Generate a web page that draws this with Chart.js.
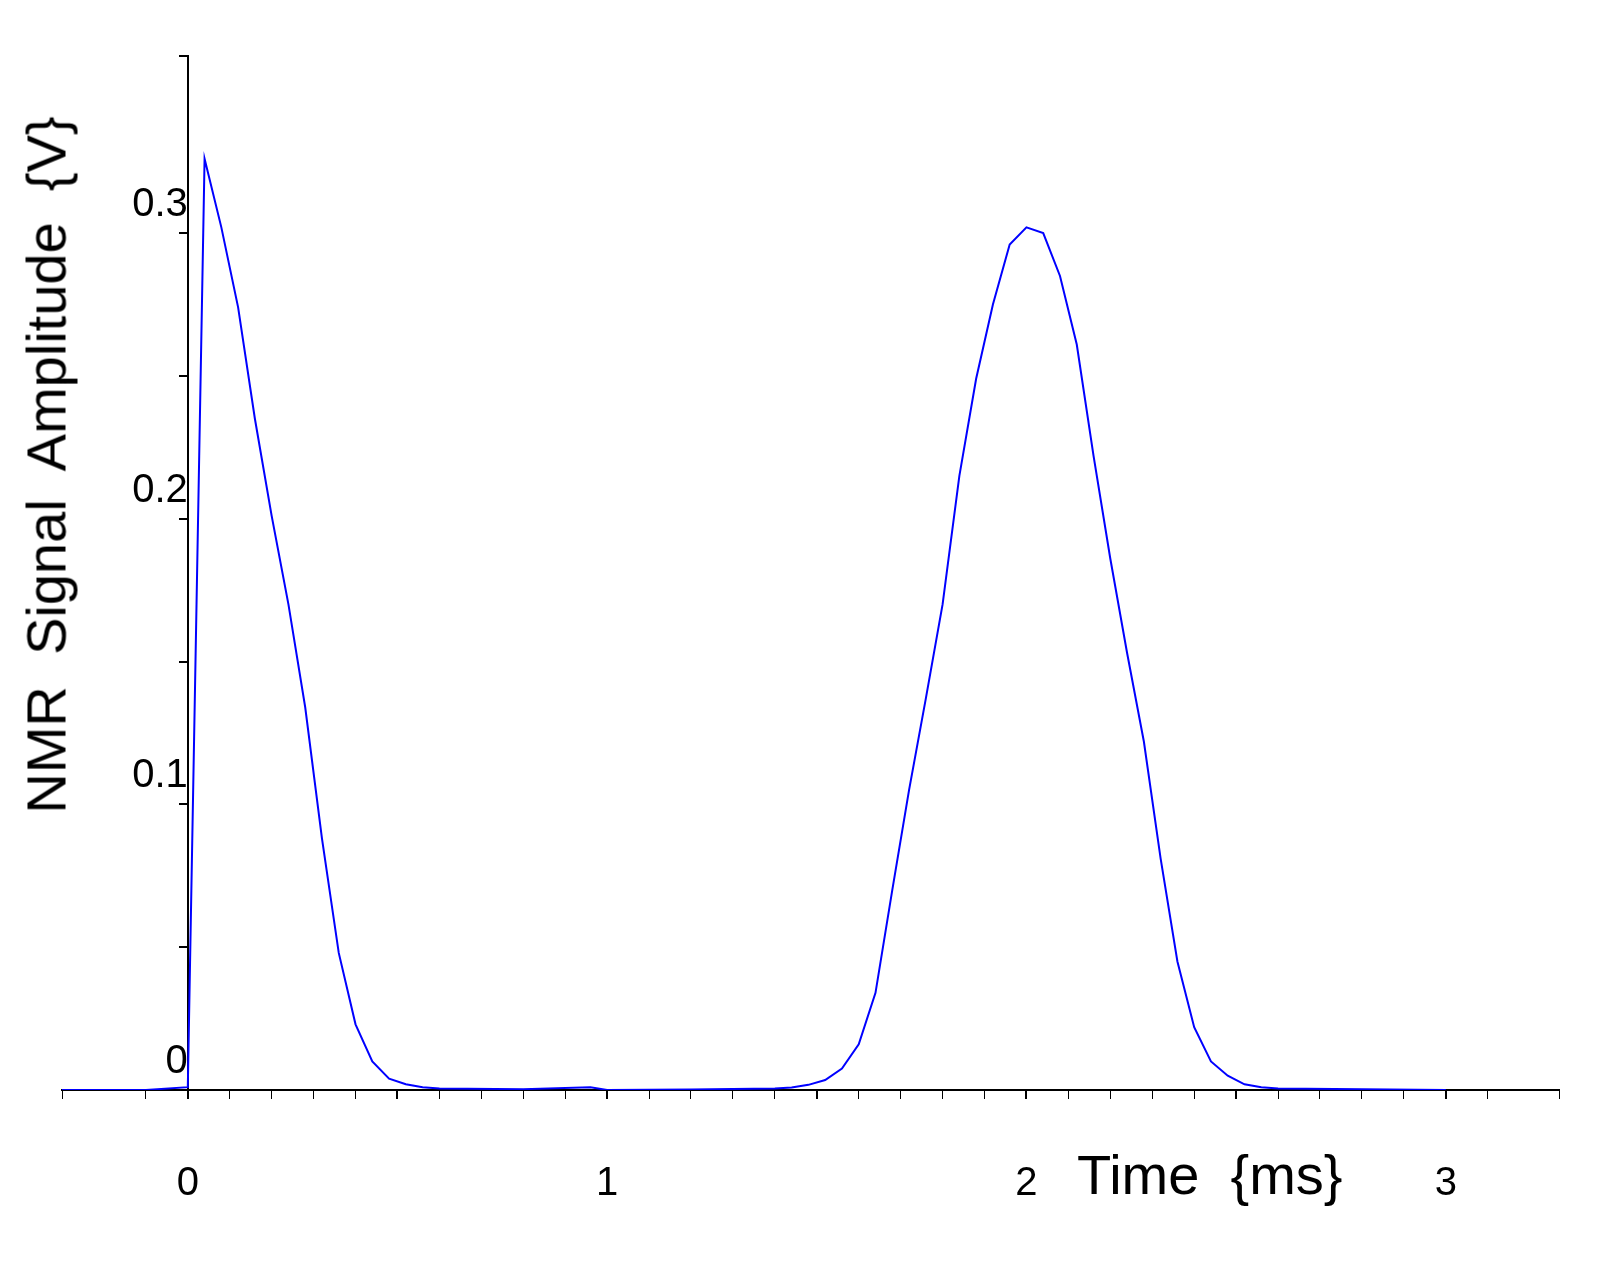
<!DOCTYPE html>
<html>
<head>
<meta charset="utf-8">
<script src="https://cdn.jsdelivr.net/npm/chart.js@4"></script>
<style>
body { margin: 0; background: #fff; }
#wrap { position: relative; width: 1621px; height: 1268px; }
.title { position: absolute; font-family: "Liberation Sans", Arial, sans-serif; font-size: 56px; color: #000; white-space: pre; }
#ytitle { left: 46px; top: 465px; transform: translate(-50%, -50%) rotate(-90deg); }
#xtitle { left: 1077px; top: 1142px; }
</style>
</head>
<body>
<div id="wrap">
  <canvas id="c" width="1621" height="1268"></canvas>
  <div class="title" id="ytitle">NMR  Signal  Amplitude  {V}</div>
  <div class="title" id="xtitle">Time  {ms}</div>
</div>
<script>
// time in ms, amplitude in V
const times = [-0.3, -0.2, -0.1, 0, 0.04, 0.08, 0.12, 0.16, 0.2, 0.24, 0.28, 0.32, 0.36, 0.4, 0.44, 0.48, 0.52, 0.56, 0.6,
    0.8, 0.96, 1.0, 1.2, 1.4, 1.44, 1.48, 1.52, 1.56, 1.6, 1.64, 1.68, 1.72, 1.76, 1.8, 1.84, 1.88, 1.92, 1.96, 2.0,
    2.04, 2.08, 2.12, 2.16, 2.2, 2.24, 2.28, 2.32, 2.36, 2.4, 2.44, 2.48, 2.52, 2.56, 2.6, 2.8, 3.0];
const amplitude = [0, 0, 0, 0.001, 0.326, 0.302, 0.274, 0.235, 0.201, 0.17, 0.134, 0.088, 0.048, 0.023, 0.01, 0.004, 0.002, 0.001, 0.0005,
    0.0003, 0.001, 0, 0.0002, 0.0005, 0.0009, 0.0018, 0.0035, 0.0075, 0.016, 0.034, 0.07, 0.105, 0.137, 0.17, 0.215, 0.249, 0.275, 0.296, 0.302,
    0.3, 0.285, 0.261, 0.222, 0.186, 0.153, 0.122, 0.081, 0.045, 0.022, 0.01, 0.005, 0.002, 0.001, 0.0005, 0.0003, 0];

const points = times.map((t, i) => ({ x: t, y: amplitude[i] }));
const font = { family: '"Liberation Sans", Arial, sans-serif', size: 40 };
const near = (v, s) => Math.abs(v / s - Math.round(v / s)) < 1e-6;

new Chart(document.getElementById('c'), {
    type: 'scatter',
    data: { datasets: [{ data: points, showLine: true, borderColor: '#0000ff', borderWidth: 2, pointRadius: 0, tension: 0 }] },
    options: {
        responsive: false,
        animation: false,
        layout: { padding: { left: 62, top: 0, right: 12, bottom: 178 } },
        plugins: { legend: { display: false }, tooltip: { enabled: false } },
        scales: {
            x: {
                type: 'linear', min: -0.3, max: 3.27, position: { y: 0 },
                border: { color: '#000', width: 2 },
                grid: { drawOnChartArea: false, tickLength: 8, color: '#000', lineWidth: ctx => near(ctx.tick.value, 0.5) ? 2 : 1 },
                ticks: {
                    stepSize: 0.1, autoSkip: false, maxRotation: 0, color: '#000', font, padding: 62,
                    callback: v => near(v, 1) ? String(Math.round(v)) : ''
                }
            },
            y: {
                type: 'linear', min: 0, max: 0.362, position: { x: 0 },
                border: { color: '#000', width: 2 },
                grid: { drawOnChartArea: false, tickLength: 8, color: '#000', lineWidth: 2 },
                ticks: {
                    stepSize: 0.05, autoSkip: false, color: '#000', font, padding: 32, labelOffset: -28,
                    callback: v => near(v, 0.1) ? (Math.abs(v) < 1e-9 ? '0' : v.toFixed(1)) : ''
                }
            }
        }
    }
});
</script>
</body>
</html>
